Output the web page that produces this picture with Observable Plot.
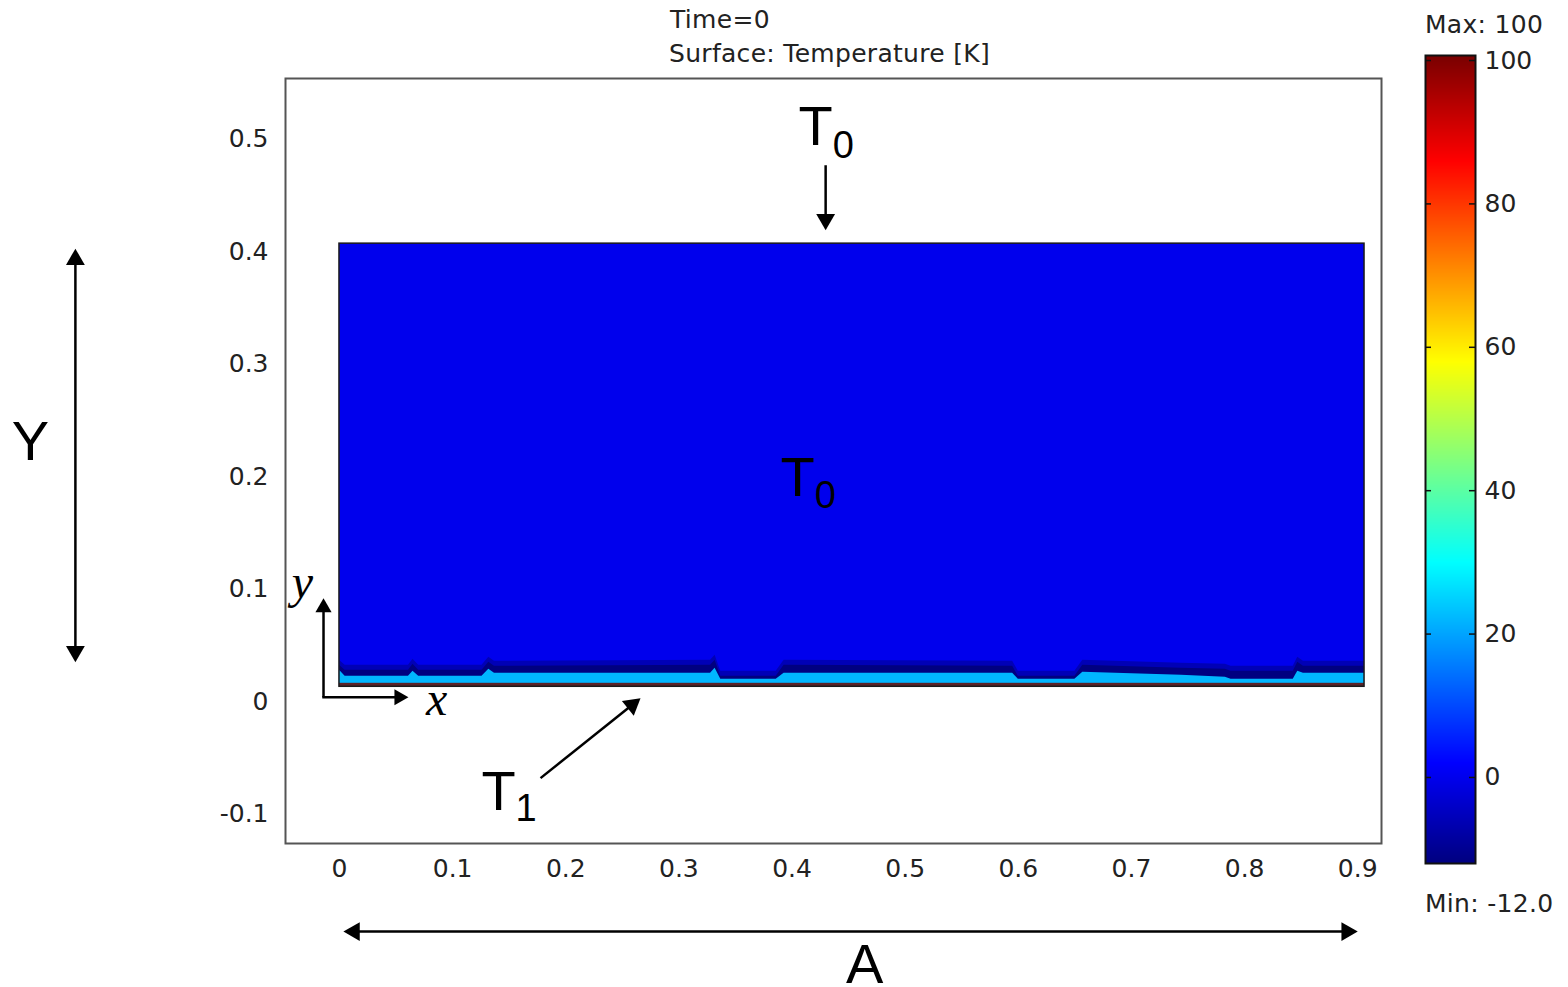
<!DOCTYPE html>
<html><head><meta charset="utf-8">
<script src="https://cdn.jsdelivr.net/npm/d3@7"></script>
<script src="https://cdn.jsdelivr.net/npm/@observablehq/plot@0.6"></script>
<style>
body{margin:0;background:#fff;}
#wrap{position:relative;width:1568px;height:987px;overflow:hidden;background:#fff;}
#main,#cbar{position:absolute;top:0;}
#main{left:0;} #cbar{left:1400px;}
.lbl{position:absolute;font-family:"DejaVu Sans";font-size:25px;line-height:25px;color:#222;white-space:nowrap;letter-spacing:0.3px;}
</style></head>
<body>
<div id="wrap">
  <div id="main"></div>
  <div id="cbar"></div>
  <div class="lbl" style="left:670px;top:7px">Time=0</div>
  <div class="lbl" style="left:669px;top:41px">Surface: Temperature [K]</div>
  <div class="lbl" style="left:1425px;top:12px">Max: 100</div>
  <div class="lbl" style="left:1425px;top:891px">Min: -12.0</div>
</div>
<script>
// ---- data ----
const xTicks = [0, 0.1, 0.2, 0.3, 0.4, 0.5, 0.6, 0.7, 0.8, 0.9];
const yTicks = [-0.1, 0, 0.1, 0.2, 0.3, 0.4, 0.5];
const colorTicks = [0, 20, 40, 60, 80, 100];
const tempMin = -12, tempMax = 100;
const T0 = 0;            // initial temperature of the domain
const darkTemp = -12;    // undershoot band
const haloTemp = -6;
const cyanTemp = 22;     // heated layer
const domainX = [0, 0.906];
const domainY = [0.0133, 0.4072];
const wallTop = 0.0164;
const profileX = [0, 0.005, 0.061, 0.065, 0.070, 0.126, 0.132, 0.137, 0.328, 0.332, 0.337, 0.386, 0.393, 0.595, 0.600, 0.650, 0.657, 0.744, 0.783, 0.788, 0.843, 0.847, 0.852, 0.906];
const cyanTop  = [0.0280, 0.0226, 0.0226, 0.0271, 0.0226, 0.0226, 0.0289, 0.0253, 0.0253, 0.0298, 0.0200, 0.0200, 0.0253, 0.0253, 0.0200, 0.0200, 0.0262, 0.0235, 0.0218, 0.0200, 0.0200, 0.0271, 0.0253, 0.0253];
const darkTop  = [0.0324, 0.0280, 0.0280, 0.0333, 0.0280, 0.0280, 0.0351, 0.0315, 0.0324, 0.0369, 0.0226, 0.0226, 0.0324, 0.0315, 0.0226, 0.0226, 0.0324, 0.0298, 0.0289, 0.0271, 0.0271, 0.0351, 0.0315, 0.0315];

const profile = profileX.map((x, i) => ({x, cyan: cyanTop[i], dark: darkTop[i]}));

function jet(t) {
  const c = v => Math.max(0, Math.min(1, v));
  const r = c(1.5 - Math.abs(4 * t - 3)), g = c(1.5 - Math.abs(4 * t - 2)), b = c(1.5 - Math.abs(4 * t - 1));
  return d3.rgb(r * 255, g * 255, b * 255).toString();
}
const fmt = d => (d === 0 ? "0" : String(d));
const colorScale = {type: "linear", domain: [tempMin, tempMax], interpolate: jet};
const big = {fontFamily: "Liberation Sans", fontSize: 56, fill: "black"};
const sub = {fontFamily: "Liberation Sans", fontSize: 38, fill: "black"};
const ital = {fontFamily: "Liberation Serif", fontStyle: "italic", fontSize: 48, fill: "black"};
const ln = {stroke: "black", strokeWidth: 2.5};
const head = (r) => ({symbol: "triangle", r, fill: "black", stroke: "none"});

const main = Plot.plot({
  width: 1568, height: 987,
  marginLeft: 285, marginRight: 187, marginTop: 78, marginBottom: 144,
  style: {background: "transparent", fontFamily: "DejaVu Sans", fontSize: "25px", color: "#222", maxWidth: "none"},
  x: {domain: [-0.0477, 0.921], ticks: xTicks, tickSize: 0, tickPadding: 16, tickFormat: fmt, label: null},
  y: {domain: [-0.126, 0.554], ticks: yTicks, tickSize: 0, tickPadding: 17, tickFormat: fmt, label: null},
  color: colorScale,
  marks: [
    Plot.rect([0], {x1: domainX[0], x2: domainX[1], y1: domainY[0], y2: domainY[1], fill: () => T0}),
    Plot.areaY(profile, {x: "x", y1: domainY[0], y2: d => d.dark + 0.0045, fill: () => haloTemp}),
    Plot.areaY(profile, {x: "x", y1: domainY[0], y2: "dark", fill: () => darkTemp}),
    Plot.areaY(profile, {x: "x", y1: domainY[0], y2: "cyan", fill: () => cyanTemp}),
    Plot.rect([0], {x1: domainX[0], x2: domainX[1], y1: domainY[0], y2: wallTop, fill: "#5a2228"}),
    Plot.rect([0], {x1: domainX[0], x2: domainX[1], y1: domainY[0], y2: domainY[1], fill: "none", stroke: "#1a1a1a", strokeWidth: 1.5}),
    Plot.frame({stroke: "#555", strokeWidth: 2}),
    // labels
    Plot.text(["T"], {x: 0.4209, y: 0.5106, ...big}),
    Plot.text(["0"], {x: 0.4453, y: 0.4945, ...sub}),
    Plot.text(["T"], {x: 0.4049, y: 0.1986, ...big}),
    Plot.text(["0"], {x: 0.4294, y: 0.1826, ...sub}),
    Plot.text(["T"], {x: 0.1406, y: -0.0805, ...big}),
    Plot.text(["1"], {x: 0.1650, y: -0.0955, ...sub}),
    Plot.text(["Y"], {x: -0.2732, y: 0.2306, ...big}),
    Plot.text(["A"], {x: 0.4642, y: -0.2340, ...big}),
    Plot.text(["y"], {x: -0.0327, y: 0.1057, ...ital}),
    Plot.text(["x"], {x: 0.0858, y: 0.0017, ...ital}),
    // arrows
    Plot.link([0], {x1: -0.2334, x2: -0.2334, y1: 0.395, y2: 0.043, ...ln}),
    Plot.dot([0], {x: -0.2334, y: 0.3931, rotate: 0, ...head(7)}),
    Plot.dot([0], {x: -0.2334, y: 0.0448, rotate: 180, ...head(7)}),
    Plot.link([0], {x1: 0.011, x2: 0.892, y1: -0.2043, y2: -0.2043, ...ln}),
    Plot.dot([0], {x: 0.0131, y: -0.2043, rotate: -90, ...head(7)}),
    Plot.dot([0], {x: 0.8904, y: -0.2043, rotate: 90, ...head(7)}),
    Plot.link([0], {x1: 0.4297, x2: 0.4297, y1: 0.4769, y2: 0.431, ...ln}),
    Plot.dot([0], {x: 0.4297, y: 0.4288, rotate: 180, ...head(7)}),
    Plot.link([0], {x1: 0.1777, y1: -0.0679, x2: 0.2586, y2: -0.0029, ...ln}),
    Plot.dot([0], {x: 0.2586, y: -0.0029, rotate: 51, ...head(7)}),
    Plot.link([0], {x1: -0.0141, x2: -0.0141, y1: 0.004, y2: 0.085, ...ln}),
    Plot.dot([0], {x: -0.0141, y: 0.0836, rotate: 0, ...head(6)}),
    Plot.link([0], {x1: -0.0152, x2: 0.053, y1: 0.004, y2: 0.004, ...ln}),
    Plot.dot([0], {x: 0.0527, y: 0.004, rotate: 90, ...head(6)})
  ]
});
document.getElementById("main").append(main);

const cbar = Plot.plot({
  width: 168, height: 987,
  marginLeft: 25, marginRight: 93, marginTop: 55, marginBottom: 124,
  style: {background: "transparent", fontFamily: "DejaVu Sans", fontSize: "25px", color: "#222", maxWidth: "none"},
  x: {domain: [0, 1], axis: null},
  y: {domain: [tempMin, 100.7], axis: null},
  color: colorScale,
  marks: [
    Plot.raster({x1: 0, x2: 1, y1: tempMin, y2: 100.7, fill: (x, y) => y, imageRendering: "auto"}),
    Plot.ruleY(colorTicks, {x1: 0, x2: 0.12, stroke: "#111", strokeWidth: 1.5}),
    Plot.ruleY(colorTicks, {x1: 0.88, x2: 1, stroke: "#111", strokeWidth: 1.5}),
    Plot.frame({stroke: "#111", strokeWidth: 2}),
    Plot.text(colorTicks, {x: 1, y: d => d, text: d => String(d), textAnchor: "start", dx: 9, fill: "#222", fontSize: 25})
  ]
});
document.getElementById("cbar").append(cbar);
</script>
</body></html>
